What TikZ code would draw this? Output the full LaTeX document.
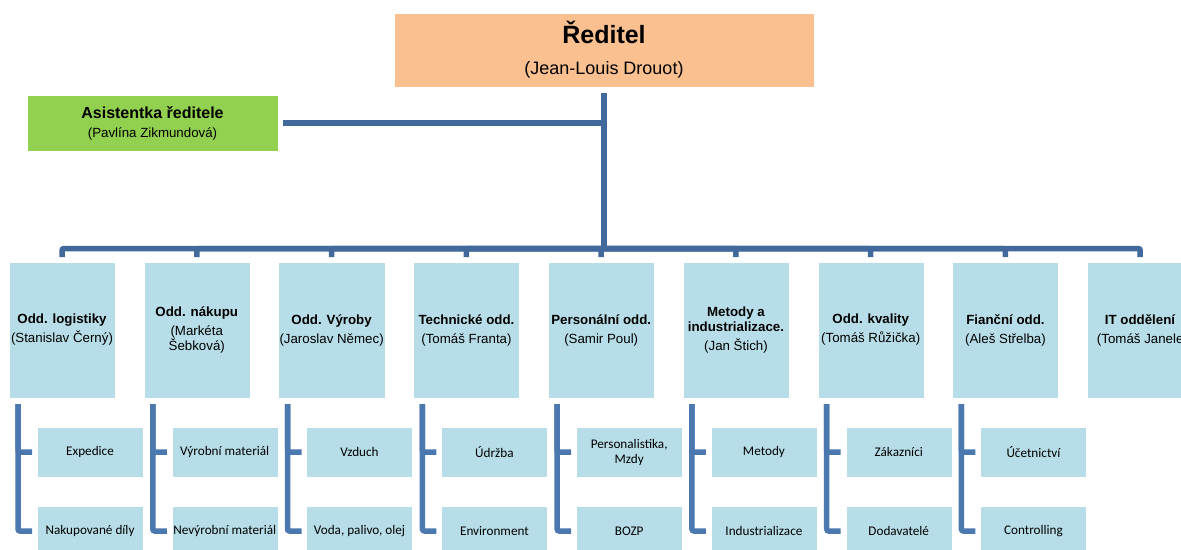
\documentclass[tikz,border=0pt]{standalone}
\usepackage{fontspec}
\setmainfont{Liberation Sans}
\newfontfamily\subfont{Carlito}
\usepackage{tikz}
\usepackage{xcolor}
\usetikzlibrary{positioning}
\usetikzlibrary{calc}
\definecolor{chiefcolor}{RGB}{250, 192, 144}
\definecolor{asistcolor}{RGB}{146, 208, 80}
\definecolor{deptcolor}{RGB}{183, 222, 232}
\definecolor{barcolor}{RGB}{65, 105, 155}
\definecolor{subbarcolor}{RGB}{75, 120, 175}
\tikzstyle{chief} = [
	draw=white,
	fill=chiefcolor,
	minimum width=420pt,
	minimum height=74pt,
	align=center,
	outer sep=0pt,
]
\tikzstyle{asist} = [
	draw=white,
	fill=asistcolor,
	minimum width=251pt,
	minimum height=56pt,
	align=center,
	outer sep=0pt,
]
\tikzstyle{dept} = [
	draw=white,
	fill=deptcolor,
	minimum width=106pt,
	minimum height=136pt,
	align=center,
	inner sep=1pt,
	outer sep=0pt,
	font=\fontsize{13.3}{15}\selectfont,
]
\tikzstyle{subdept} = [
	draw=white,
	fill=deptcolor,
	minimum width=106pt,
	minimum height=50pt,
	align=center,
	inner sep=1pt,
	outer sep=0pt,
	font=\subfont\fontsize{13.2}{15}\selectfont,
]
\tikzstyle{bar} = [
	line width=5.5pt,
	draw=barcolor,
	rounded corners=2pt,
]
\tikzstyle{subbar} = [
	line width=5.5pt,
	draw=subbarcolor,
	rounded corners=2pt,
]

\begin{document}
\begin{tikzpicture}[x=1pt, y=-1pt, node distance=29pt and 28.75pt]
	\useasboundingbox (0,0) rectangle (1181,549);

	%
	% Top
	\node[chief] at (604,50) (reditel) {{\fontsize{25}{27}\selectfont\bfseries Ředitel}\\[17pt]{\fontsize{18}{20}\selectfont (Jean-Louis Drouot)}};
	\node[asist] at (152.5,123) (asistentka) {{\fontsize{16}{18}\selectfont\bfseries Asistentka ředitele}\\[7pt]{\fontsize{13.3}{15}\selectfont (Pavlína Zikmundová)}};

	%
	% Departments
	\node[dept, anchor=north west] at (9,262) (logistika) {\textbf{Odd. logistiky}\\[4pt](Stanislav Černý)};
	\node[dept, right=of logistika] (nakup) {\textbf{Odd. nákupu}\\[4pt](Markéta\\Šebková)};
	\node[dept, right=of nakup] (vyroba) {\textbf{Odd. Výroby}\\[4pt](Jaroslav Němec)};
	\node[dept, right=of vyroba] (technicke) {\textbf{Technické odd.}\\[4pt](Tomáš Franta)};
	\node[dept, right=of technicke] (personalni) {\textbf{Personální odd.}\\[4pt](Samir Poul)};
	\node[dept, right=of personalni] (metody) {\textbf{Metody a}\\\textbf{industrializace.}\\[4pt](Jan Štich)};
	\node[dept, right=of metody] (kvalita) {\textbf{Odd. kvality}\\[4pt](Tomáš Růžička)};
	\node[dept, right=of kvalita] (financni) {\textbf{Fianční odd.}\\[4pt](Aleš Střelba)};
	\node[dept, right=of financni] (it) {\textbf{IT oddělení}\\[4pt](Tomáš Janele};

	%
	% Sub departments
	\node[subdept, anchor=north west] at ([xshift=28pt, yshift=-29pt]logistika.south west) (expedice) {Expedice};
	\node[subdept, below=of expedice] (nakupdily) {Nakupované díly};

	\node[subdept, anchor=north west] at ([xshift=28pt, yshift=-29pt]nakup.south west) (vyrmat) {Výrobní materiál};
	\node[subdept, below=of vyrmat] (nevyrmat) {Nevýrobní materiál};

	\node[subdept, anchor=north west] at ([xshift=28pt, yshift=-29pt]vyroba.south west) (vzduch) {Vzduch};
	\node[subdept, below=of vzduch] (voda) {Voda, palivo, olej};

	\node[subdept, anchor=north west] at ([xshift=28pt, yshift=-29pt]technicke.south west) (udrzba) {Údržba};
	\node[subdept, below=of udrzba] (environment) {Environment};

	\node[subdept, anchor=north west] at ([xshift=28pt, yshift=-29pt]personalni.south west) (mzdy) {Personalistika,\\Mzdy};
	\node[subdept, below=of mzdy] (bozp) {BOZP};

	\node[subdept, anchor=north west] at ([xshift=28pt, yshift=-29pt]metody.south west) (metodysub) {Metody};
	\node[subdept, below=of metodysub] (industrializace) {Industrializace};

	\node[subdept, anchor=north west] at ([xshift=28pt, yshift=-29pt]kvalita.south west) (zakaznici) {Zákazníci};
	\node[subdept, below=of zakaznici] (dodavatele) {Dodavatelé};

	\node[subdept, anchor=north west] at ([xshift=28pt, yshift=-29pt]financni.south west) (ucetnictvi) {Účetnictví};
	\node[subdept, below=of ucetnictvi] (controlling) {Controlling};

	%
	% Bars

	% Director to departments
	\coordinate (bus) at (604,248.5);
	\draw[bar] ([yshift=-6pt]reditel.south) -- (bus);
	\draw[bar] ([xshift=5pt]asistentka.east) -- (asistentka.east -| bus);
	\draw[bar] ([yshift=5pt]logistika.north) |- (bus);
	\draw[bar] ([yshift=5pt]nakup.north) |- (bus);
	\draw[bar] ([yshift=5pt]vyroba.north) |- (bus);
	\draw[bar] ([yshift=5pt]technicke.north) |- (bus);
	\draw[bar] ([yshift=5pt]personalni.north) |- (bus);
	\draw[bar] ([yshift=5pt]metody.north) |- (bus);
	\draw[bar] ([yshift=5pt]kvalita.north) |- (bus);
	\draw[bar] ([yshift=5pt]financni.north) |- (bus);
	\draw[bar] ([yshift=5pt]it.north) |- (bus);

	% Departments to sub departments
	\draw[subbar] ([xshift=9pt, yshift=-6pt]logistika.south west) |- ([xshift=-5pt]expedice.west);
	\draw[subbar] ([xshift=9pt, yshift=-6pt]logistika.south west) |- ([xshift=-5pt]nakupdily.west);
	\draw[subbar] ([xshift=9pt, yshift=-6pt]nakup.south west) |- ([xshift=-5pt]vyrmat.west);
	\draw[subbar] ([xshift=9pt, yshift=-6pt]nakup.south west) |- ([xshift=-5pt]nevyrmat.west);
	\draw[subbar] ([xshift=9pt, yshift=-6pt]vyroba.south west) |- ([xshift=-5pt]vzduch.west);
	\draw[subbar] ([xshift=9pt, yshift=-6pt]vyroba.south west) |- ([xshift=-5pt]voda.west);
	\draw[subbar] ([xshift=9pt, yshift=-6pt]technicke.south west) |- ([xshift=-5pt]udrzba.west);
	\draw[subbar] ([xshift=9pt, yshift=-6pt]technicke.south west) |- ([xshift=-5pt]environment.west);
	\draw[subbar] ([xshift=9pt, yshift=-6pt]personalni.south west) |- ([xshift=-5pt]mzdy.west);
	\draw[subbar] ([xshift=9pt, yshift=-6pt]personalni.south west) |- ([xshift=-5pt]bozp.west);
	\draw[subbar] ([xshift=9pt, yshift=-6pt]metody.south west) |- ([xshift=-5pt]metodysub.west);
	\draw[subbar] ([xshift=9pt, yshift=-6pt]metody.south west) |- ([xshift=-5pt]industrializace.west);
	\draw[subbar] ([xshift=9pt, yshift=-6pt]kvalita.south west) |- ([xshift=-5pt]zakaznici.west);
	\draw[subbar] ([xshift=9pt, yshift=-6pt]kvalita.south west) |- ([xshift=-5pt]dodavatele.west);
	\draw[subbar] ([xshift=9pt, yshift=-6pt]financni.south west) |- ([xshift=-5pt]ucetnictvi.west);
	\draw[subbar] ([xshift=9pt, yshift=-6pt]financni.south west) |- ([xshift=-5pt]controlling.west);

\end{tikzpicture}
\end{document}
